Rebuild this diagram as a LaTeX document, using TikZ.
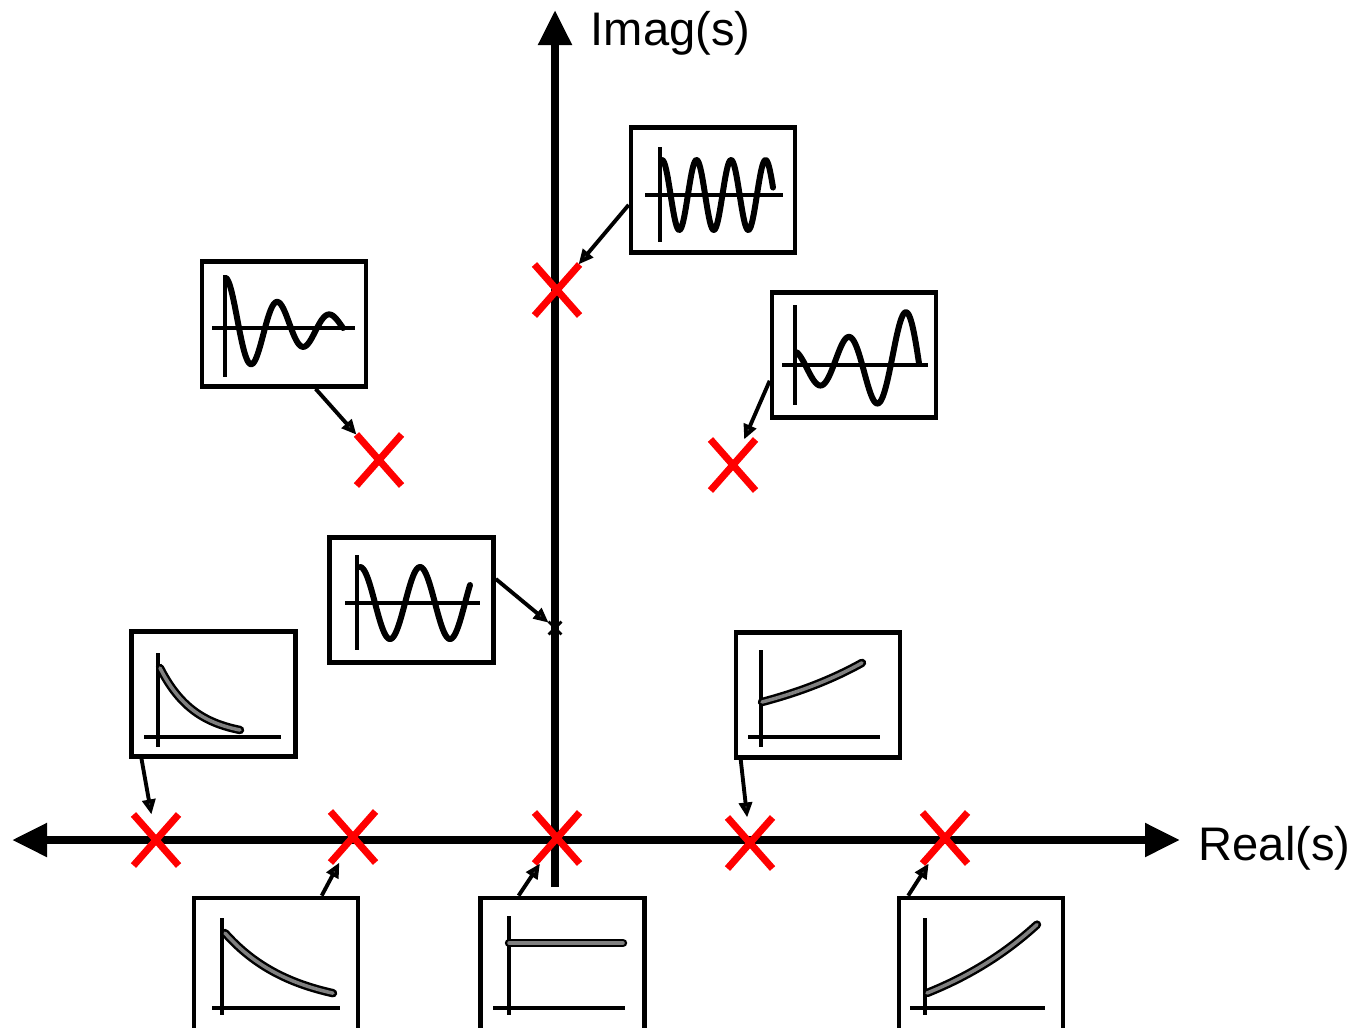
\documentclass[tikz,border=0pt]{standalone}
\usepackage{fontspec}
\setmainfont{Liberation Sans}
\usetikzlibrary{arrows.meta,shapes.misc}

\tikzset{
	plotbox/.style={draw, line width=1.3pt, minimum width=1.64cm, minimum height=1.25cm, inner sep=0pt},
	lowbox/.style={plotbox, minimum height=1.36cm},
	tinyaxis/.style={line width=1.2pt},
	wave/.style={line width=1.7pt, line join=round, line cap=round},
	growth/.style={draw=black, line width=0.7pt, double=gray, double distance=1pt, line cap=round},
	polex/.style={cross out, draw=red, line width=2pt, minimum width=0.38cm, minimum height=0.44cm, inner sep=0pt},
	smallx/.style={cross out, draw=black, line width=0.8pt, minimum size=0.1cm, inner sep=0pt},
	conn/.style={line width=1.1pt, -{Triangle[length=1.5mm,width=1.3mm,fill=darkgray]}},
	axisline/.style={line width=2.3pt},
	bigtip/.tip={Triangle[length=3.5mm,width=3.2mm]},
	axlabel/.style={inner sep=0pt, font=\fontsize{13.4pt}{16pt}\selectfont}
}

\begin{document}
\begin{tikzpicture}[x=0.01cm, y=-0.01cm]
		\clip (0,0) rectangle (1361,1027);
		% Draw real and imaginary axes
		\draw [axisline, bigtip-bigtip] (12,840) -- (1180,840);
		\draw [axisline, -bigtip] (555,887) -- (555,10);
		\node[axlabel, anchor=west] (imlab) at (590,33) {Imag(s)};
		\node[axlabel, anchor=west] (relab) at (1198,848) {Real(s)};

		% Boxes with the responses
		\node[plotbox] (b1) at (713,190) {};
		\node[plotbox] (b2) at (284,324) {};
		\node[plotbox] (b3) at (854,355) {};
		\node[plotbox] (b4) at (411.5,600) {};
		\node[plotbox] (b5) at (213.5,694) {};
		\node[plotbox] (b6) at (818,695) {};
		\node[lowbox] (b7) at (276,966) {};
		\node[lowbox] (b8) at (562.5,966) {};
		\node[lowbox] (b9) at (981,966) {};

		% Poles
		\node[polex] (x1) at (557,290) {};
		\node[polex] (x2) at (379,460) {};
		\node[polex] (x3) at (733,465) {};
		\node[smallx] (x4) at (555,628) {};
		\node[polex] (x5) at (156,840) {};
		\node[polex] (x6) at (750,843) {};
		\node[polex] (x7) at (353,837) {};
		\node[polex] (x8) at (557,838) {};
		\node[polex] (x9) at (945,838) {};

		% Undamped, fast
		\begin{scope}[shift={(b1.center)}]
			\draw[tinyaxis] (-53,-43) -- (-53,52);
			\draw[tinyaxis] (-68,5) -- (70,5);
			\draw[wave, domain=-51:60, samples=150] plot ({\x},{5-35*cos(10.43*(\x+51))});
		\end{scope}
		% Damped
		\begin{scope}[shift={(b2.center)}]
			\draw[tinyaxis] (-59,-49) -- (-59,53);
			\draw[tinyaxis] (-72,4) -- (71,4);
			\draw[wave, domain=-58:59, samples=150] plot ({\x},{4-50*exp(-0.01257*(\x+58))*cos(6.923*(\x+58))});
		\end{scope}
		% Growing
		\begin{scope}[shift={(b3.center)}]
			\draw[tinyaxis] (-59,-50) -- (-59,50);
			\draw[tinyaxis] (-72,10) -- (74,10);
			\draw[wave, domain=-57:65, samples=150] plot ({\x},{10-28*exp(0.01105*(\x+6))*cos(6.316*(\x+6))});
		\end{scope}
		% Undamped, slow
		\begin{scope}[shift={(b4.center)}]
			\draw[tinyaxis] (-54.5,-45) -- (-54.5,50);
			\draw[tinyaxis] (-66.5,3) -- (68.5,3);
			\draw[wave, domain=-51.5:58.5, samples=150] plot ({\x},{3-36*cos(6*(\x+51.5))});
		\end{scope}
		% Fast decay
		\begin{scope}[shift={(b5.center)}]
			\draw[tinyaxis] (-55.5,-41) -- (-55.5,53);
			\draw[tinyaxis] (-69.5,43) -- (67.5,43);
			\draw[growth, domain=-53.5:26.5, samples=60] plot ({\x},{43-69*exp(-(\x+53.5)/35)});
		\end{scope}
		% Slow growth
		\begin{scope}[shift={(b6.center)}]
			\draw[tinyaxis] (-57,-45) -- (-57,52);
			\draw[tinyaxis] (-70,42) -- (62,42);
			\draw[growth, domain=-56:44, samples=60] plot ({\x},{42-35*exp(0.0075*(\x+56))});
		\end{scope}
		% Slow decay
		\begin{scope}[shift={(b7.center)}]
			\draw[tinyaxis] (-54,-48) -- (-54,49);
			\draw[tinyaxis] (-64,42) -- (64,42);
			\draw[growth, domain=-51:57, samples=60] plot ({\x},{42-75*exp(-0.015*(\x+51))});
		\end{scope}
		% Step
		\begin{scope}[shift={(b8.center)}]
			\draw[tinyaxis] (-53.5,-50) -- (-53.5,49);
			\draw[tinyaxis] (-69.5,42) -- (62.5,42);
			\draw[growth] (-53.5,-23) -- (60.5,-23);
		\end{scope}
		% Fast growth
		\begin{scope}[shift={(b9.center)}]
			\draw[tinyaxis] (-56,-48) -- (-56,49);
			\draw[tinyaxis] (-71,42) -- (64,42);
			\draw[growth, domain=-54:56, samples=60] plot ({\x},{27-53.3*(exp(0.0075*(\x+54))-1)});
		\end{scope}

		% Connectors
		\draw[conn] (b1.190) -- (x1);
		\draw[conn] (b2.296) -- (x2);
		\draw[conn] (b3.197) -- (x3);
		\draw[conn] (b4.14) -- (x4);
		\draw[conn] (b5.222) -- (x5);
		\draw[conn] (b6.220) -- (x6);
		\draw[conn] (b7.57) -- (x7);
		\draw[conn] (b8.122) -- (x8);
		\draw[conn] (b9.136) -- (x9);
	\end{tikzpicture}
\end{document}
